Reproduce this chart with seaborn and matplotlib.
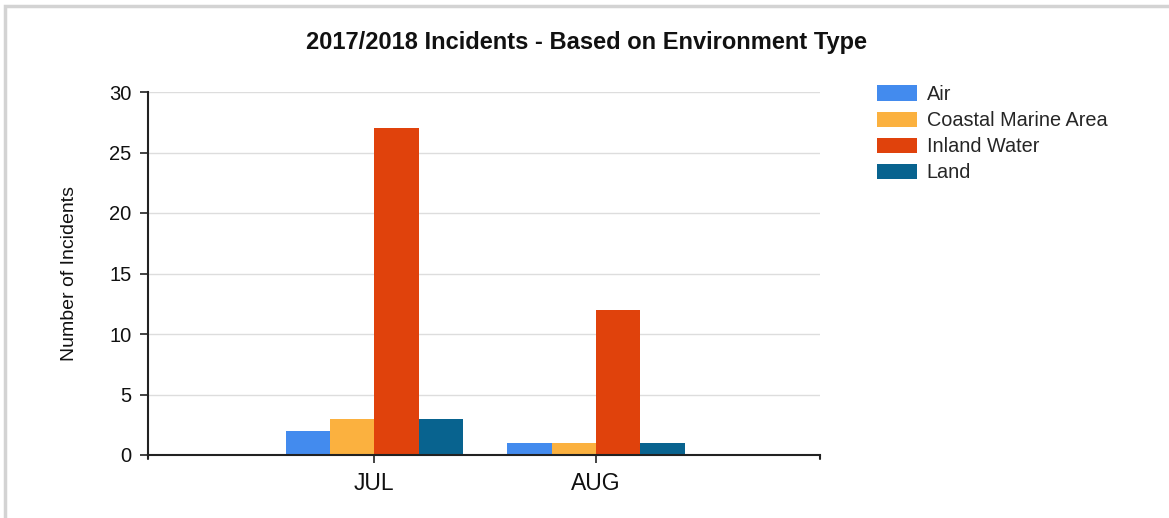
import matplotlib
matplotlib.use("Agg")
from matplotlib import pyplot as plt
from matplotlib.patches import Rectangle
import pandas as pd
import seaborn as sns

# chart values
months = ['JUL', 'AUG']
environments = ['Air', 'Coastal Marine Area', 'Inland Water', 'Land']
air = [2, 1]
coastal = [3, 1]
inland = [27, 12]
land = [3, 1]
colors = ['#438bee', '#fbb13f', '#e0420c', '#08638f']

rows = []
for env, vals in zip(environments, [air, coastal, inland, land]):
    for m, v in zip(months, vals):
        rows.append({'Month': m, 'Environment': env, 'Incidents': v})
df = pd.DataFrame(rows)

sns.set_style('white')
plt.rcParams['font.family'] = ['Liberation Sans', 'DejaVu Sans']

fig = plt.figure(figsize=(11.69, 5.18), dpi=100)
ax = fig.add_axes([148 / 1169, 1 - 455 / 518, 672 / 1169, 363 / 518])

sns.barplot(data=df, x='Month', y='Incidents', hue='Environment',
            order=months, hue_order=environments, palette=colors,
            width=0.8, saturation=1, linewidth=0, ax=ax, legend=False)

ax.set_xlim(-1.02, 2.01)
ax.set_ylim(0, 30)
ax.set_yticks(range(0, 31, 5))
ax.yaxis.grid(True, color='#dddddd', linewidth=1)
ax.set_axisbelow(True)
for s in ['top', 'right']:
    ax.spines[s].set_visible(False)
for s in ['left', 'bottom']:
    ax.spines[s].set_color('#222222')
    ax.spines[s].set_linewidth(1.5)
ax.tick_params(axis='both', length=6, width=1.2, color='#222222',
               labelcolor='#111111', direction='out', bottom=True, left=True)
ax.tick_params(axis='y', pad=6, labelsize=14.5)
ax.tick_params(axis='x', pad=6.5, labelsize=16.5)
ax.set_xlabel('')
ax.set_ylabel('Number of Incidents', fontsize=14, labelpad=22, color='#111111')
ax.plot([1, 1], [0, -0.011], transform=ax.transAxes, color='#222222', lw=1.5, clip_on=False)
ax.plot([0, 0], [0, -0.011], transform=ax.transAxes, color='#222222', lw=1.5, clip_on=False)

fig.text(0.5 * (303 + 871) / 1169, 1 - 42 / 518,
         '2017/2018 Incidents - Based on Environment Type',
         ha='center', va='center', fontsize=17, fontweight='bold', color='#111111')

handles = [Rectangle((0, 0), 1, 1, facecolor=c, edgecolor='none') for c in colors]
fig.legend(handles, environments, loc='upper left',
           bbox_to_anchor=(877 / 1169, 1 - 85 / 518), frameon=False,
           fontsize=14.3, handlelength=2.0, handleheight=0.82,
           handletextpad=0.5, labelspacing=0.36, borderpad=0,
           borderaxespad=0)

# outer frame
fig.add_artist(Rectangle((5 / 1169, -0.1), 1.2, 1 - 6 / 518 + 0.1,
                         transform=fig.transFigure, fill=False,
                         edgecolor='#d3d3d3', linewidth=2.5))

fig.savefig('out.png', dpi=100)
